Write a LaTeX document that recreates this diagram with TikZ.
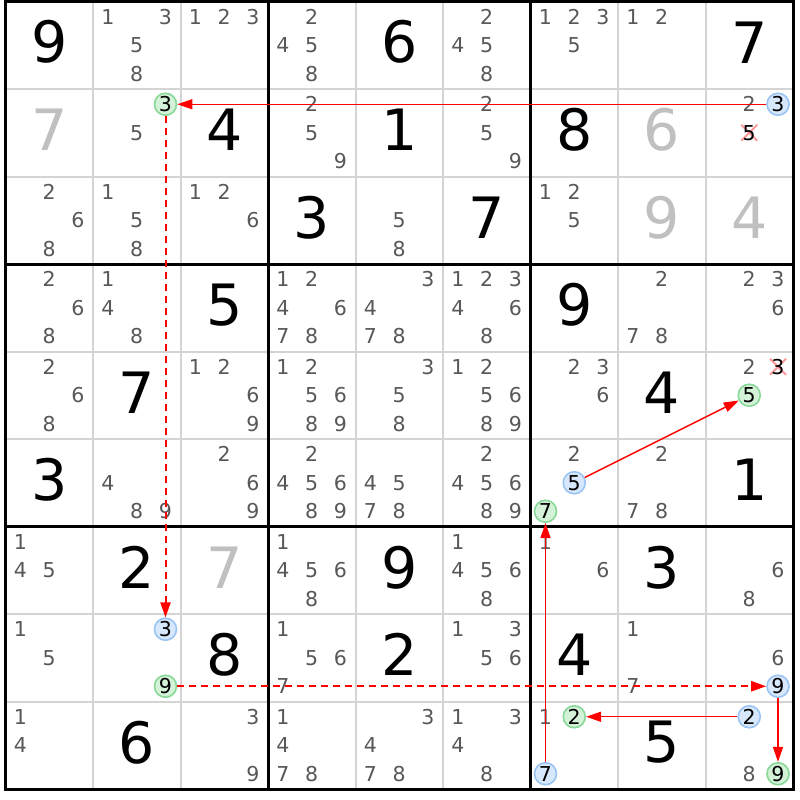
\documentclass[tikz,border=0pt]{standalone}
\usepackage{fontspec}
\setmainfont{DejaVu Sans}
\usetikzlibrary{arrows.meta}
\definecolor{candgrey}{HTML}{585858}
\definecolor{solvedgrey}{HTML}{C0C0C0}
\definecolor{thinline}{HTML}{D4D4D4}
\definecolor{bluefill}{HTML}{D8E8FC}
\definecolor{blueedge}{HTML}{99C4F4}
\definecolor{greenfill}{HTML}{D4F2D8}
\definecolor{greenedge}{HTML}{88D898}
\definecolor{strikecol}{HTML}{FF8080}
\tikzset{
 cand/.style={font=\fontsize{20.5}{21}\selectfont, text=candgrey, inner sep=0pt},
 given/.style={font=\fontsize{57}{57}\selectfont, text=black, inner sep=0pt},
 solved/.style={given, text=solvedgrey},
 bluec/.style={circle, draw=blueedge, fill=bluefill, line width=1.6pt, minimum size=22pt, inner sep=0pt, font=\fontsize{20.5}{21}\selectfont, text=black},
 greenc/.style={bluec, draw=greenedge, fill=greenfill},
 struck/.style={cand, text=black},
 strikex/.style={strikecol, line width=2pt, opacity=0.8},
 link/.style={red, line width=1.4pt, -{Triangle[length=15pt,width=10pt]}},
 weak/.style={link, line width=2pt, dash pattern=on 7pt off 5pt},
 thingrid/.style={thinline, line width=2pt},
 thickgrid/.style={black, line width=3pt},
}
\newcommand\sdcands[3]{\foreach \d in {#3}{%
 \pgfmathsetmacro\px{5.5+87.5*(#2-0.5)+28.75*(mod(\d-1,3)-1)}%
 \pgfmathsetmacro\py{1.5+87.5*(#1-0.5)+28.5*(int((\d-1)/3)-1)}%
 \node[cand] (n#1#2\d) at (\px,\py) {\d};}}
\newcommand\sdmark[4]{%
 \pgfmathsetmacro\px{5.5+87.5*(#3-0.5)+28.75*(mod(#4-1,3)-1)}%
 \pgfmathsetmacro\py{1.5+87.5*(#2-0.5)+28.5*(int((#4-1)/3)-1)}%
 \node[#1] (n#2#3#4) at (\px,\py) {#4};}
\newcommand\sdbig[4]{%
 \pgfmathsetmacro\px{5.5+87.5*(#3-0.5)}%
 \pgfmathsetmacro\py{1.5+87.5*(#2-0.5)-3}%
 \node[#1] (g#2#3) at (\px,\py) {#4};}
\newcommand\sdstrike[3]{%
 \pgfmathsetmacro\px{5.5+87.5*(#2-0.5)+28.75*(mod(#3-1,3)-1)}%
 \pgfmathsetmacro\py{1.5+87.5*(#1-0.5)+28.5*(int((#3-1)/3)-1)}%
 \draw[strikex] (\px-8,\py-8) -- (\px+8,\py+8) (\px-8,\py+8) -- (\px+8,\py-8);}
\begin{document}
\begin{tikzpicture}[x=1pt,y=-1pt]
\useasboundingbox[fill=white] (0,0) rectangle (800,800);
% grid
\foreach \i in {1,2,4,5,7,8}{
 \draw[thingrid] ({5.5+87.5*\i},1.5) -- ({5.5+87.5*\i},789);
 \draw[thingrid] (5.5,{1.5+87.5*\i}) -- (793,{1.5+87.5*\i});
}
\foreach \i in {3,6}{
 \draw[thickgrid] ({5.5+87.5*\i},1.5) -- ({5.5+87.5*\i},789);
 \draw[thickgrid] (5.5,{1.5+87.5*\i}) -- (793,{1.5+87.5*\i});
}
\draw[thickgrid] (5.5,1.5) rectangle (793,789);
% row 1
\sdbig{given}{1}{1}{9} \sdcands{1}{2}{1,3,5,8} \sdcands{1}{3}{1,2,3}
\sdcands{1}{4}{2,4,5,8} \sdbig{given}{1}{5}{6} \sdcands{1}{6}{2,4,5,8}
\sdcands{1}{7}{1,2,3,5} \sdcands{1}{8}{1,2} \sdbig{given}{1}{9}{7}
% row 2
\sdbig{solved}{2}{1}{7} \sdmark{greenc}{2}{2}{3} \sdcands{2}{2}{5} \sdbig{given}{2}{3}{4}
\sdcands{2}{4}{2,5,9} \sdbig{given}{2}{5}{1} \sdcands{2}{6}{2,5,9}
\sdbig{given}{2}{7}{8} \sdbig{solved}{2}{8}{6}
\sdcands{2}{9}{2} \sdmark{bluec}{2}{9}{3}
\sdstrike{2}{9}{5} \sdmark{struck}{2}{9}{5}
% row 3
\sdcands{3}{1}{2,6,8} \sdcands{3}{2}{1,5,8} \sdcands{3}{3}{1,2,6}
\sdbig{given}{3}{4}{3} \sdcands{3}{5}{5,8} \sdbig{given}{3}{6}{7}
\sdcands{3}{7}{1,2,5} \sdbig{solved}{3}{8}{9} \sdbig{solved}{3}{9}{4}
% row 4
\sdcands{4}{1}{2,6,8} \sdcands{4}{2}{1,4,8} \sdbig{given}{4}{3}{5}
\sdcands{4}{4}{1,2,4,6,7,8} \sdcands{4}{5}{3,4,7,8} \sdcands{4}{6}{1,2,3,4,6,8}
\sdbig{given}{4}{7}{9} \sdcands{4}{8}{2,7,8} \sdcands{4}{9}{2,3,6}
% row 5
\sdcands{5}{1}{2,6,8} \sdbig{given}{5}{2}{7} \sdcands{5}{3}{1,2,6,9}
\sdcands{5}{4}{1,2,5,6,8,9} \sdcands{5}{5}{3,5,8} \sdcands{5}{6}{1,2,5,6,8,9}
\sdcands{5}{7}{2,3,6} \sdbig{given}{5}{8}{4}
\sdcands{5}{9}{2}
\sdstrike{5}{9}{3} \sdmark{struck}{5}{9}{3} \sdmark{greenc}{5}{9}{5}
% row 6
\sdbig{given}{6}{1}{3} \sdcands{6}{2}{4,8,9} \sdcands{6}{3}{2,6,9}
\sdcands{6}{4}{2,4,5,6,8,9} \sdcands{6}{5}{4,5,7,8} \sdcands{6}{6}{2,4,5,6,8,9}
\sdcands{6}{7}{2} \sdmark{bluec}{6}{7}{5} \sdmark{greenc}{6}{7}{7}
\sdcands{6}{8}{2,7,8} \sdbig{given}{6}{9}{1}
% row 7
\sdcands{7}{1}{1,4,5} \sdbig{given}{7}{2}{2} \sdbig{solved}{7}{3}{7}
\sdcands{7}{4}{1,4,5,6,8} \sdbig{given}{7}{5}{9} \sdcands{7}{6}{1,4,5,6,8}
\sdcands{7}{7}{1,6} \sdbig{given}{7}{8}{3} \sdcands{7}{9}{6,8}
% row 8
\sdcands{8}{1}{1,5} \sdmark{bluec}{8}{2}{3} \sdmark{greenc}{8}{2}{9} \sdbig{given}{8}{3}{8}
\sdcands{8}{4}{1,5,6,7} \sdbig{given}{8}{5}{2} \sdcands{8}{6}{1,3,5,6}
\sdbig{given}{8}{7}{4} \sdcands{8}{8}{1,7} \sdcands{8}{9}{6} \sdmark{bluec}{8}{9}{9}
% row 9
\sdcands{9}{1}{1,4} \sdbig{given}{9}{2}{6} \sdcands{9}{3}{3,9}
\sdcands{9}{4}{1,4,7,8} \sdcands{9}{5}{3,4,7,8} \sdcands{9}{6}{1,3,4,8}
\sdcands{9}{7}{1} \sdmark{greenc}{9}{7}{2} \sdmark{bluec}{9}{7}{7}
\sdbig{given}{9}{8}{5}
\sdmark{bluec}{9}{9}{2} \sdcands{9}{9}{8} \sdmark{greenc}{9}{9}{9}
% chain
\draw[link] (n293) -- (n223);
\draw[weak] (n223) -- (n823);
\draw[weak] (n829) -- (n899);
\draw[link] (n899) -- (n999);
\draw[link] (n992) -- (n972);
\draw[link] (n977) -- (n677);
\draw[link] (n675) -- (n595);
\end{tikzpicture}
\end{document}
